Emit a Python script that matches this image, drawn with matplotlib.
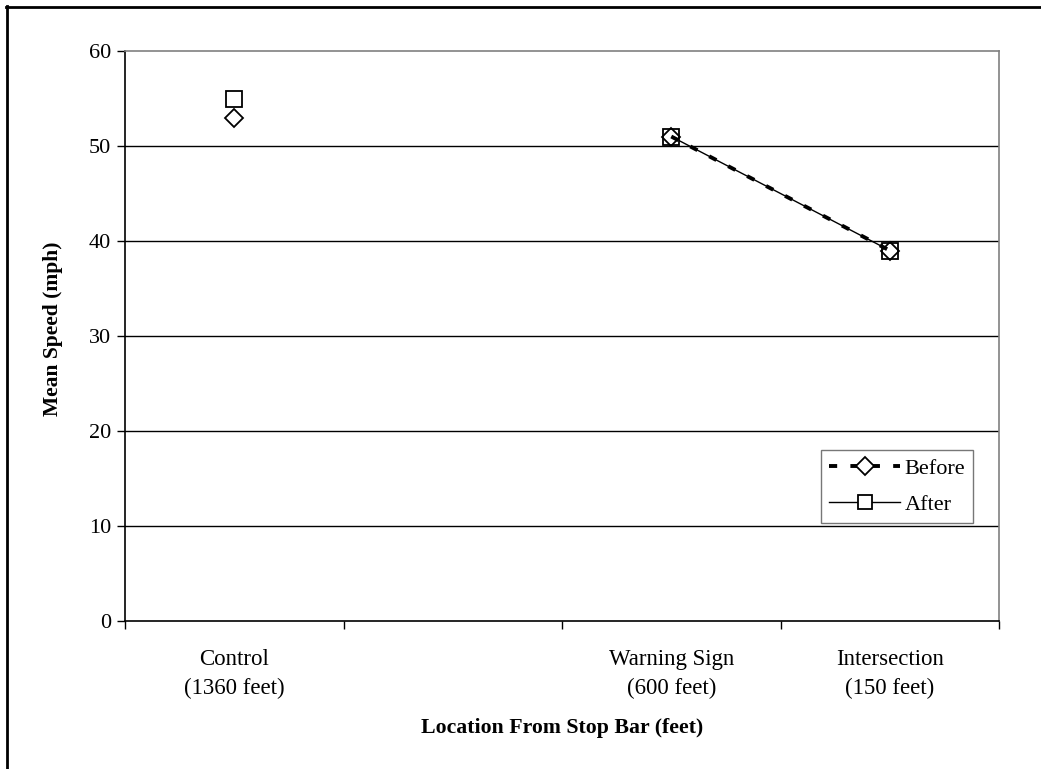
import numpy as np
import matplotlib
matplotlib.use("Agg")
import matplotlib.pyplot as plt
from matplotlib.lines import Line2D

plt.rcParams['font.family'] = ['Liberation Serif', 'DejaVu Serif']

categories = ["Control\n(1360 feet)", "", "Warning Sign\n(600 feet)", "Intersection\n(150 feet)"]
before = [53, np.nan, 51, 39]
after = [55, np.nan, 51, 39]
y_ticks = [0, 10, 20, 30, 40, 50, 60]

DASH = (0, (2.1, 3.4))

fig = plt.figure(figsize=(10.41, 7.69), dpi=100)
ax = fig.add_axes([125/1041, 1-621/769, (999-125)/1041, (621-51)/769])

x = np.arange(1, len(categories) + 1)

ax.plot(x, after, color='black', lw=1.0, ls='-', marker='s', ms=12,
        mfc='white', mec='black', mew=1.3, label='After', zorder=3)
ax.plot(x, before, color='black', lw=2.8, ls=DASH, marker='D', ms=9.5,
        mfc='none', mec='black', mew=1.3, label='Before', zorder=4)

ax.set_xlim(0.5, len(categories) + 0.5)
ax.set_ylim(0, 60)
ax.set_yticks(y_ticks)
ax.set_yticklabels([str(v) for v in y_ticks], fontsize=16)
ax.set_xticks(np.arange(0.5, len(categories) + 1))
ax.set_xticklabels([])
ax.set_xticks(x, minor=True)
ax.set_xticklabels(categories, minor=True, fontsize=16.5, linespacing=1.5)
ax.tick_params(axis='x', which='minor', length=0, pad=20)
ax.tick_params(axis='x', which='major', length=6, width=1, direction='out')
ax.tick_params(axis='y', length=6, width=1, direction='out', pad=4)

for v in y_ticks[1:-1]:
    ax.axhline(v, color='black', lw=1.0, zorder=1)

ax.spines['top'].set_color('#808080')
ax.spines['right'].set_color('#808080')
ax.spines['left'].set_color('black')
ax.spines['bottom'].set_color('black')
for s in ax.spines.values():
    s.set_linewidth(1.2)

ax.set_xlabel("Location From Stop Bar (feet)", fontsize=15.7, fontweight='bold')
ax.xaxis.set_label_coords(0.5, (621-728)/570)
ax.xaxis.label.set_va('center')
ax.set_ylabel("Mean Speed (mph)", fontsize=15.5, fontweight='bold')
ax.yaxis.set_label_coords((53-125)/874, (621-329)/570)
ax.yaxis.label.set_va('center')

h_before = Line2D([], [], color='black', lw=2.8, ls=DASH, marker='D', ms=9.5,
                  mfc='white', mec='black', mew=1.3)
h_after = Line2D([], [], color='black', lw=1.0, ls='-', marker='s', ms=10,
                 mfc='white', mec='black', mew=1.3)
leg = ax.legend([h_before, h_after], ['Before', 'After'], loc='lower right',
                bbox_to_anchor=((973-125)/874, (621-523)/570),
                fontsize=16, frameon=True, fancybox=False, handlelength=3.2,
                handletextpad=0.2, borderpad=0.35, labelspacing=0.72,
                borderaxespad=0)
leg.get_frame().set_edgecolor('#555555')
leg.get_frame().set_linewidth(1.0)

# outer frame (left and top edges visible)
fig.add_artist(Line2D([7/1041, 7/1041], [0, 1-6/769], color='black', lw=2.0))
fig.add_artist(Line2D([6/1041, 1], [1-7/769, 1-7/769], color='black', lw=2.0))

fig.savefig("out.png", dpi=100)
